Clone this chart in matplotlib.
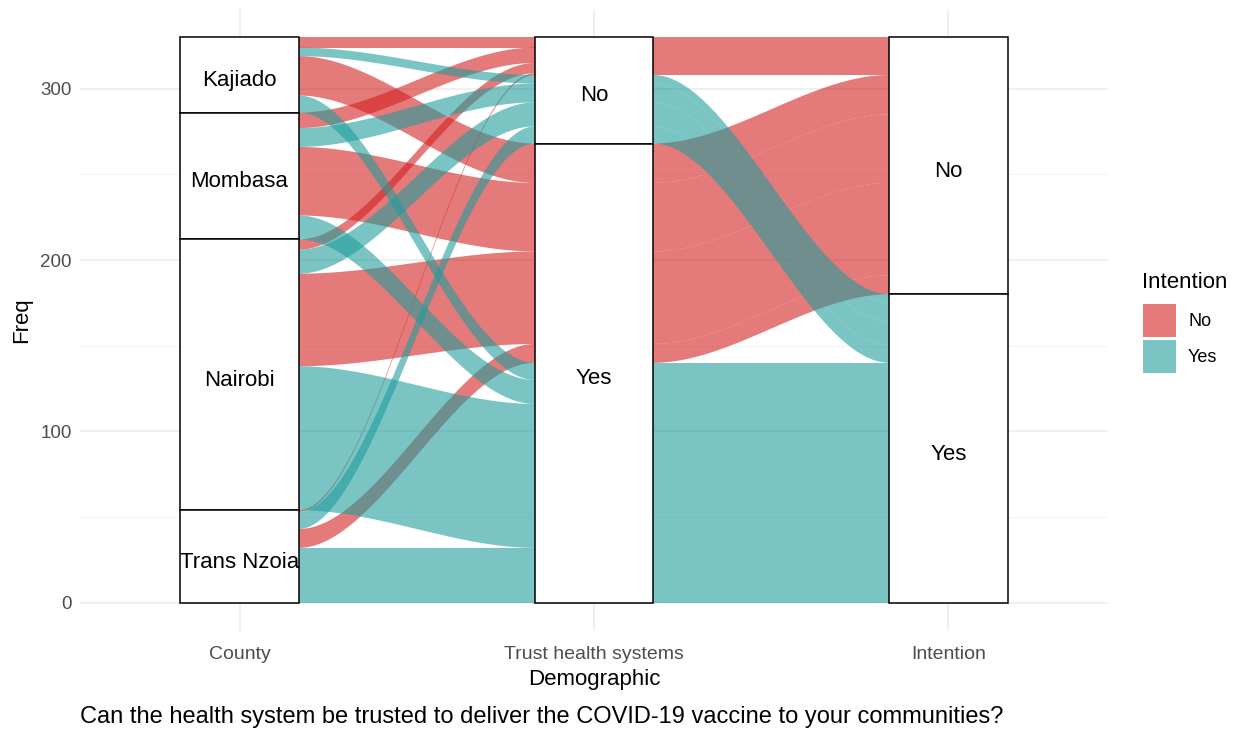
import numpy as np
import matplotlib.pyplot as plt
from matplotlib.patches import Polygon, Rectangle

# Categories (first level drawn on top, as in ggalluvial)
counties = ["Kajiado", "Mombasa", "Nairobi", "Trans Nzoia"]
trust_levels = ["No", "Yes"]
intent_levels = ["No", "Yes"]

# Freq for (Trust, Intention) = (No,No), (No,Yes), (Yes,No), (Yes,Yes)
kajiado = [6, 5, 23, 10]
mombasa = [9, 11, 40, 14]
nairobi = [6, 14, 54, 84]
trans_nzoia = [1, 10, 11, 32]

axis_labels = ["County", "Trust health systems", "Intention"]

RED_FLOW = (213 / 255, 33 / 255, 33 / 255)
TEAL_FLOW = (33 / 255, 157 / 255, 157 / 255)
FLOW_ALPHA = 0.6
RED_KEY = "#E67A7A"
TEAL_KEY = "#7AC4C4"

plt.rcParams['font.family'] = ['Liberation Sans', 'DejaVu Sans']

# build alluvia records
records = []
for ci, vals in enumerate([kajiado, mombasa, nairobi, trans_nzoia]):
    k = 0
    for ti in range(2):
        for ii in range(2):
            records.append({"c": ci, "t": ti, "i": ii, "n": vals[k]})
            k += 1
total = sum(r["n"] for r in records)


def stack(keyfunc):
    # returns (top, bottom) per record, stacking from the top down
    order = sorted(range(len(records)), key=lambda j: keyfunc(records[j]))
    pos = [None] * len(records)
    y = total
    for j in order:
        n = records[j]["n"]
        pos[j] = (y, y - n)
        y -= n
    return pos


pos1 = stack(lambda r: (r["c"], r["t"], r["i"]))
pos2 = stack(lambda r: (r["t"], r["i"], r["c"]))
pos3 = stack(lambda r: (r["i"], r["t"], r["c"]))
positions = [pos1, pos2, pos3]

fig = plt.figure(figsize=(12.44, 7.33), dpi=100)
ax = fig.add_axes([80 / 1244, 1 - 631 / 733, 1028 / 1244, 622 / 733])
ax.set_xlim(0.55, 3.45)
ax.set_ylim(-16.5, 346.5)

# grid like theme_minimal
for y in [50, 150, 250]:
    ax.axhline(y, color="#F2F2F2", lw=0.6, zorder=0)
for y in [0, 100, 200, 300]:
    ax.axhline(y, color="#EBEBEB", lw=1.1, zorder=0)
for x in [1, 2, 3]:
    ax.axvline(x, color="#EBEBEB", lw=1.1, zorder=0)

w = 1 / 3


def smooth(t):
    return t * t * (3 - 2 * t)


ts = np.linspace(0, 1, 120)
# reds first, teal on top
for colour_level in [0, 1]:
    col = RED_FLOW if colour_level == 0 else TEAL_FLOW
    for j, r in enumerate(records):
        if r["i"] != colour_level or r["n"] == 0:
            continue
        for a in range(2):
            x0 = (a + 1) + w / 2
            x1 = (a + 2) - w / 2
            ta, ba = positions[a][j]
            tb, bb = positions[a + 1][j]
            xs = x0 + (x1 - x0) * ts
            s = smooth(ts)
            top = ta + (tb - ta) * s
            bot = ba + (bb - ba) * s
            pts = np.concatenate([np.column_stack([xs, top]),
                                  np.column_stack([xs[::-1], bot[::-1]])])
            ax.add_patch(Polygon(pts, closed=True, facecolor=col,
                                 edgecolor="none", alpha=FLOW_ALPHA, zorder=2))

# strata boxes with labels
strata = [
    (1, counties, "c"),
    (2, trust_levels, "t"),
    (3, intent_levels, "i"),
]
for x, levels, key in strata:
    y = total
    for li, name in enumerate(levels):
        n = sum(r["n"] for r in records if r[key] == li)
        ax.add_patch(Rectangle((x - w / 2, y - n), w, n, facecolor="white",
                               edgecolor="black", lw=1.1, zorder=3))
        ax.annotate(name, (x, y - n / 2), xytext=(0, -4), textcoords="offset points",
                    ha="center", va="center", fontsize=16, color="black", zorder=4)
        y -= n

ax.set_xticks([1, 2, 3])
ax.set_xticklabels(axis_labels, fontsize=14, color="#4D4D4D")
ax.set_yticks([0, 100, 200, 300])
ax.set_yticklabels(["0", "100", "200", "300"], fontsize=13.5, color="#4D4D4D")
ax.tick_params(axis="both", length=0)
ax.tick_params(axis="x", pad=11)
ax.tick_params(axis="y", pad=6)
for sp in ax.spines.values():
    sp.set_visible(False)

ax.set_xlabel("Demographic", fontsize=16, labelpad=4)
ax.set_ylabel("Freq", fontsize=16, labelpad=6)

fig.text(80 / 1244, 1 - 717 / 733, "Can the health system be trusted to deliver the COVID-19 vaccine to your communities?",
         fontsize=17, ha="left", va="center", color="black")

# legend
fig.text(1142 / 1244, 1 - 282 / 733, "Intention", fontsize=16, ha="left", va="center")
for k, (lab, col) in enumerate([("No", RED_KEY), ("Yes", TEAL_KEY)]):
    y0 = 304 + k * 36
    fig.patches.append(Rectangle((1143 / 1244, 1 - (y0 + 33) / 733), 33 / 1244, 33 / 733,
                                 transform=fig.transFigure, facecolor=col,
                                 edgecolor="none", figure=fig))
    fig.text(1188 / 1244, 1 - (y0 + 17) / 733, lab, fontsize=13, ha="left", va="center")

fig.savefig("out.png", dpi=100)
